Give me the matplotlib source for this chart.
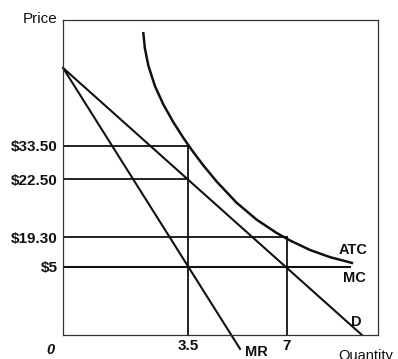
import matplotlib
matplotlib.use("Agg")
import matplotlib.pyplot as plt

# schematic chart: positions are in 0-100 plot units, labels are the printed values
price_labels = ["$33.50", "$22.50", "$19.30", "$5"]
price_pos = [60.0, 49.4, 31.0, 21.7]
qty_labels = ["3.5", "7"]
qty_pos = [39.7, 71.1]

demand_x = [0.0, 94.9]
demand_y = [84.8, 0.0]
mr_x = [0.0, 56.2]
mr_y = [84.8, -4.4]
mc_x = [0.0, 91.1]

atc_x = [25.5, 26.0, 27.1, 29.2, 31.8, 35.0, 38.2, 40.9, 44.5, 48.8,
         55.1, 61.5, 67.8, 72.1, 78.4, 84.8, 91.7]
atc_y = [95.8, 91.0, 85.5, 79.0, 73.3, 67.6, 62.6, 58.7, 53.9, 48.7,
         42.0, 36.6, 32.4, 30.0, 27.0, 24.7, 22.9]

plt.rcParams['font.family'] = ['Liberation Sans', 'DejaVu Sans']
ink = '#111111'

fig = plt.figure(figsize=(3.98, 3.59), dpi=100)
ax = fig.add_axes([63 / 398, 24 / 359, 315 / 398, 315 / 359])
ax.set_xlim(0, 100)
ax.set_ylim(0, 100)

# ATC, demand, MR
ax.plot(atc_x, atc_y, color=ink, lw=1.8, solid_joinstyle='round')
ax.plot(demand_x, demand_y, color=ink, lw=1.5)
ax.plot(mr_x, mr_y, color=ink, lw=1.5, clip_on=False)
# MC at $5
ax.plot(mc_x, [price_pos[3]] * 2, color=ink, lw=1.5)

# guide lines
ax.plot([0, qty_pos[0]], [price_pos[0]] * 2, color=ink, lw=1.3)
ax.plot([0, qty_pos[0]], [price_pos[1]] * 2, color=ink, lw=1.3)
ax.plot([0, qty_pos[1]], [price_pos[2]] * 2, color=ink, lw=1.3)
ax.plot([qty_pos[0]] * 2, [0, price_pos[0]], color=ink, lw=1.3)
ax.plot([qty_pos[1]] * 2, [0, price_pos[2]], color=ink, lw=1.3)

ax.set_yticks(price_pos, price_labels)
ax.set_xticks(qty_pos, qty_labels)
ax.tick_params(length=0, labelsize=11, colors=ink)
ax.tick_params(axis='y', pad=4)
ax.tick_params(axis='x', pad=3)
for lab in ax.get_xticklabels() + ax.get_yticklabels():
    lab.set_fontweight('bold')
for s in ax.spines.values():
    s.set_linewidth(0.9)
    s.set_color('#333333')

tk = dict(color=ink, fontsize=10.5, fontweight='bold', clip_on=False)
ax.text(87.6, 27.0, "ATC", ha='left', va='center', **tk)
ax.text(89.0, 18.1, "MC", ha='left', va='center', **tk)
ax.text(91.5, 4.1, "D", ha='left', va='center', **tk)
ax.text(57.8, -3.3, "MR", ha='left', va='top', **tk)
ax.text(-4.1, -2.6, "0", ha='center', va='top', color=ink, fontsize=10.5,
        fontstyle='italic', fontweight='bold')
ax.text(-1.9, 100.3, "Price", ha='right', va='center', color=ink, fontsize=11)
ax.text(87.3, -4.4, "Quantity", ha='left', va='top', color=ink, fontsize=10.5)

fig.savefig("out.png", dpi=100)
